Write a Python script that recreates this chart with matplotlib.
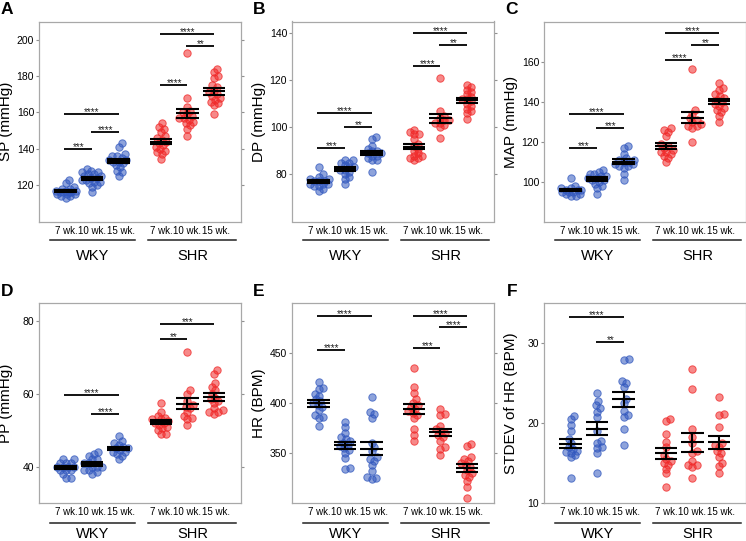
import matplotlib
matplotlib.use('Agg')
import matplotlib.pyplot as plt
import numpy as np

plt.rcParams['font.family'] = ['Liberation Sans', 'DejaVu Sans']

# ---------------- data ----------------
week_labels = ['7 wk.', '10 wk.', '15 wk.', '7 wk.', '10 wk.', '15 wk.']
strain_labels = ['WKY', 'SHR']
group_colors = ['#3258BE'] * 3 + ['#F02828'] * 3

sp_values = [
    [123, 121, 119, 118, 117, 117, 116, 116, 116, 115, 115, 115, 114, 114, 113, 117, 118, 116],
    [129, 128, 127, 127, 126, 126, 125, 125, 124, 124, 123, 123, 122, 122, 121, 120, 119, 116],
    [143, 141, 137, 136, 136, 135, 134, 134, 133, 133, 132, 131, 130, 128, 125, 127],
    [154, 152, 151, 149, 147, 146, 145, 144, 143, 142, 141, 140, 139, 138, 137, 134.5],
    [192.5, 168, 163, 161, 160, 159, 158, 157, 157, 156, 155, 154, 153, 151, 147],
    [184, 182, 180, 179, 175, 174, 172, 171, 170, 169, 168, 167, 166, 165, 164, 159],
]
dp_values = [
    [83, 80, 79, 78, 78, 77, 77, 77, 76, 76, 76, 75, 75, 74, 73],
    [86, 86, 85, 85, 84, 83, 83, 82, 82, 81, 80, 79, 78, 76],
    [96, 95, 92, 91, 90, 90, 89, 89, 88, 88, 87, 86, 86, 81],
    [99, 98, 97, 97, 95, 93, 92, 91, 90, 89, 88, 88, 87, 87, 86],
    [121, 107, 105, 104, 103, 103, 102, 102, 101, 100, 95.6],
    [118, 117, 116, 115, 114, 113, 112, 112, 111, 110, 109, 108, 107, 106, 103.5],
]
map_values = [
    [102, 98, 97, 97, 96, 96, 96, 95, 95, 95, 94, 94, 93, 93],
    [106, 105, 104, 104, 103, 103, 102, 102, 101, 101, 100, 99, 98, 97, 94],
    [118, 117, 114, 112, 111, 111, 110, 110, 109, 109, 108, 108, 107, 104, 101],
    [127, 126, 125, 123, 119, 118, 117, 116, 115, 115, 114, 113, 112, 110],
    [156.5, 136, 134, 132, 131, 130, 129, 128, 128, 127, 120],
    [149.5, 147, 146, 144, 143, 142, 141, 140, 139, 138, 137, 136, 135, 133, 130],
]
pp_values = [
    [42, 42, 41, 41, 41, 40, 40, 40, 40, 39, 39, 39, 38, 37, 37],
    [44, 43.5, 43, 42, 42, 41, 41, 40, 40, 40, 39, 39, 38.5, 38],
    [48.5, 47, 46.5, 46, 45.5, 45, 45, 44.5, 44, 44, 43.5, 43, 42],
    [57.5, 55, 54, 53.5, 53, 53, 52.5, 52, 52, 51.5, 51, 50.5, 50, 49, 49],
    [71.5, 61, 60, 58, 57, 56.5, 56, 55, 54, 53.5, 53, 51.5],
    [66.5, 65.5, 63, 62, 61, 60, 59, 58.5, 58, 57.5, 56, 55.5, 55, 54.5, 55],
]
hr_values = [
    [421, 415, 414, 409, 407, 404, 402, 400, 398, 396, 393, 388, 386, 385, 377],
    [381, 376, 370, 366, 364, 362, 360, 358, 357, 355, 353, 350, 345, 335, 334],
    [406, 391, 389, 385, 360, 356, 352, 346, 344, 342, 338, 332, 326, 325, 324],
    [435, 416, 410, 404, 400, 398, 396, 394, 392, 390, 388, 385, 374, 368, 362],
    [394, 389, 388, 377, 374, 372, 370, 368, 366, 362, 356, 354, 348],
    [359, 357, 346, 344, 342, 340, 338, 336, 333, 330, 328, 326, 322, 316, 305],
]
sdhr_values = [
    [20.9, 20.5, 19.8, 19.0, 18.0, 17.5, 17.0, 16.8, 16.5, 16.4, 16.3, 16.0, 15.7, 13.1],
    [23.7, 22.7, 22.2, 21.9, 21.4, 20.8, 19.0, 17.8, 17.5, 17.0, 16.9, 16.2, 13.8],
    [28.0, 27.9, 25.2, 25.0, 24.5, 23.0, 22.5, 21.5, 21.0, 20.8, 19.2, 17.2],
    [20.5, 20.2, 18.6, 17.6, 17.0, 16.0, 15.5, 15.3, 15.0, 14.8, 14.3, 13.7, 12.0],
    [26.7, 24.3, 19.3, 18.3, 17.5, 16.5, 16.3, 15.2, 14.8, 14.7, 14.5, 13.1],
    [23.3, 21.1, 21.0, 19.5, 17.5, 17.3, 17.0, 16.5, 16.3, 15.8, 15.0, 14.6, 13.8],
]

# significance: (group a, group b, bar height, label)
sp_sig = [(0, 1, 140, '***'), (1, 2, 149, '****'), (0, 2, 159, '****'),
          (3, 4, 175.3, '****'), (4, 5, 196.5, '**'), (3, 5, 203, '****')]
dp_sig = [(0, 1, 91.2, '***'), (1, 2, 100, '**'), (0, 2, 106, '****'),
          (3, 4, 126, '****'), (4, 5, 135, '**'), (3, 5, 140, '****')]
map_sig = [(0, 1, 116.6, '***'), (1, 2, 126.6, '***'), (0, 2, 134, '****'),
           (3, 4, 161, '****'), (4, 5, 168.3, '**'), (3, 5, 174.3, '****')]
pp_sig = [(1, 2, 54.5, '****'), (0, 2, 59.7, '****'),
          (3, 4, 75.2, '**'), (3, 5, 79.1, '***')]
hr_sig = [(0, 1, 453.3, '****'), (0, 2, 487.5, '****'),
          (3, 4, 454.7, '***'), (4, 5, 475.6, '****'), (3, 5, 487.5, '****')]
sdhr_sig = [(1, 2, 30.1, '**'), (0, 2, 33.3, '****')]

panels = [
    dict(letter='A', ylabel='SP (mmHg)', data=sp_values, ylim=(100, 210),
         yticks=[120, 140, 160, 180, 200], sig=sp_sig),
    dict(letter='B', ylabel='DP (mmHg)', data=dp_values, ylim=(60, 145),
         yticks=[80, 100, 120, 140], sig=dp_sig),
    dict(letter='C', ylabel='MAP (mmHg)', data=map_values, ylim=(80, 180),
         yticks=[100, 120, 140, 160], sig=map_sig),
    dict(letter='D', ylabel='PP (mmHg)', data=pp_values, ylim=(30, 85),
         yticks=[40, 60, 80], sig=pp_sig),
    dict(letter='E', ylabel='HR (BPM)', data=hr_values, ylim=(300, 500),
         yticks=[350, 400, 450], sig=hr_sig),
    dict(letter='F', ylabel='STDEV of HR (BPM)', data=sdhr_values, ylim=(10, 35),
         yticks=[10, 20, 30], sig=sdhr_sig),
]

# ---------------- layout ----------------
W, H = 746, 541
positions = [1, 2, 3, 4.6, 5.6, 6.6]
label_positions = [1.03, 2.0, 3.08, 4.63, 5.6, 6.68]
XLIM = (0, 7.62)
ax_lefts = [39, 292, 544]
ax_width = 202
ax_tops = [21.5, 303]
ax_height = 200
letter_xy = [(1, 2), (253, 2), (505, 2), (1, 284), (253, 284), (507, 284)]
strain_spans = [(0.42, 3.62), (4.12, 7.45)]
strain_baseline_px = [38.3, 34.5]   # below axes bottom, per row
strain_line_px = [18.5, 19.5]


def swarm_offsets(vals, ypx, xpx, diam, maxoff):
    vals = np.asarray(vals, float)
    order = np.argsort(vals)
    placed = []
    offs = np.zeros(len(vals))
    cands = [0.0]
    for k in range(1, 60):
        cands += [k * 0.5, -k * 0.5]
    cands = [c for c in cands if abs(c) <= maxoff]
    for idx in order:
        y = vals[idx] * ypx
        best, bestd, bestc = None, -1, 0.0
        for c in cands:
            d = min([np.hypot(c - px, y - py) for px, py in placed] + [1e9])
            if d >= diam:
                best = c
                break
            if d > bestd:
                bestd, bestc = d, c
        if best is None:
            best = bestc
        placed.append((best, y))
        offs[idx] = best / xpx
    return offs


fig = plt.figure(figsize=(W / 100, H / 100), dpi=100)

for k, p in enumerate(panels):
    row, col = divmod(k, 3)
    left = ax_lefts[col] / W
    bottom = 1 - (ax_tops[row] + ax_height) / H
    ax = fig.add_axes([left, bottom, ax_width / W, ax_height / H])
    ax.set_xlim(*XLIM)
    ax.set_ylim(*p['ylim'])
    ypx = ax_height / (p['ylim'][1] - p['ylim'][0])
    xpx = ax_width / (XLIM[1] - XLIM[0])

    for g, (vals, pos, colr) in enumerate(zip(p['data'], positions, group_colors)):
        vals = np.asarray(vals, float)
        offs = swarm_offsets(vals, ypx, xpx, diam=4.6, maxoff=10)
        ax.scatter(pos + offs, vals, s=28, facecolor=matplotlib.colors.to_rgba(colr, 0.55),
                   edgecolor=matplotlib.colors.to_rgba(colr, 0.75), linewidth=0.7, zorder=2)
        m = vals.mean()
        se = vals.std(ddof=1) / np.sqrt(len(vals))
        hw = 0.42
        ax.hlines([m - se, m, m + se], pos - hw, pos + hw, color='black', lw=1.5, zorder=3)
        ax.vlines(pos, m - se, m + se, color='black', lw=1.5, zorder=3)

    for a, b, yb, lab in p['sig']:
        x1, x2 = positions[a], positions[b]
        ax.plot([x1 - 0.05, x2], [yb, yb], color='black', lw=1.3, zorder=3,
                solid_capstyle='butt')
        ax.annotate(lab, ((x1 + x2) / 2, yb), xytext=(0, -0.8), textcoords='offset points',
                    ha='center', va='baseline', fontsize=7, color='#222222')

    ax.set_yticks(p['yticks'])
    ax.tick_params(axis='y', which='both', direction='out', length=2, width=0.8,
                   color='#909090', labelsize=7.5, left=True, right=True, pad=1.5)
    ax.set_xticks(label_positions)
    ax.set_xticklabels(week_labels)
    ax.tick_params(axis='x', length=0, labelsize=7.0, pad=3)
    for sp in ax.spines.values():
        sp.set_color('#a8a8a8')
        sp.set_linewidth(0.9)
    ax.set_ylabel(p['ylabel'], fontsize=11)
    ax.yaxis.set_label_coords(-25.5 / ax_width, 0.5)

    trans = ax.get_xaxis_transform()
    for (s0, s1), lab in zip(strain_spans, strain_labels):
        yl = -strain_line_px[row] / ax_height
        ax.plot([s0, s1], [yl, yl], transform=trans, color='#222222', lw=1.1,
                clip_on=False)
        ax.text((s0 + s1) / 2, -strain_baseline_px[row] / ax_height, lab, transform=trans,
                ha='center', va='baseline', fontsize=10.5)

    lx, ly = letter_xy[k]
    fig.text(lx / W, 1 - ly / H, p['letter'], ha='left', va='top', fontsize=12.5,
             fontweight='bold')

fig.savefig('out.png', dpi=100)
